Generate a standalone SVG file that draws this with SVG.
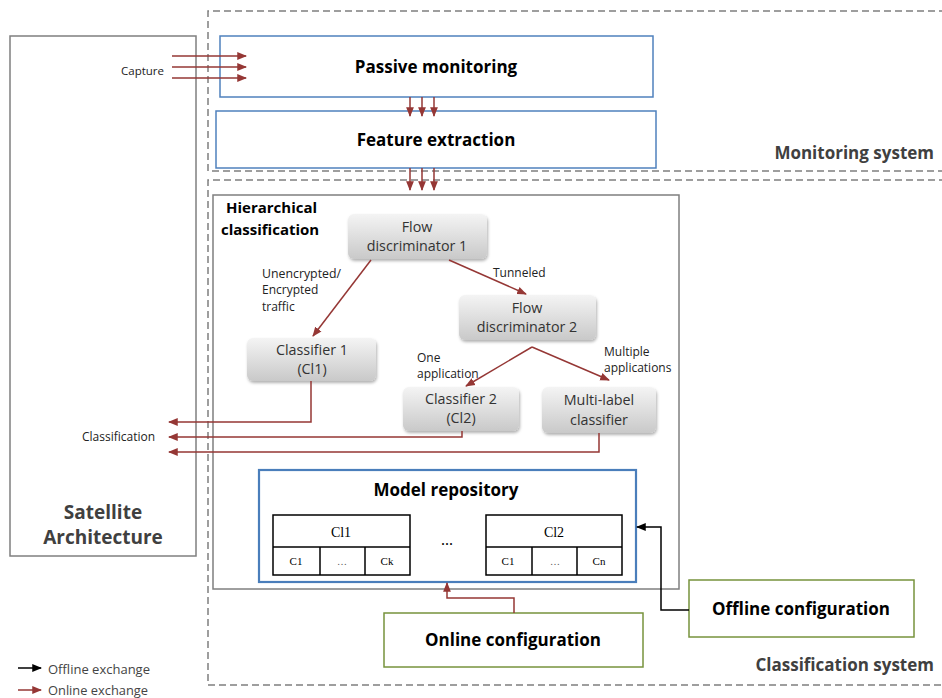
<svg xmlns="http://www.w3.org/2000/svg" width="942" height="698" viewBox="0 0 942 698">
<style>
.dash{fill:none;stroke:#7f7f7f;stroke-width:1.5;stroke-dasharray:7,4}
.grey{fill:#fff;stroke:#7f7f7f;stroke-width:1.5}
.blue{fill:#fff;stroke:#4f81bd;stroke-width:1.5}
.blue2{fill:#fff;stroke:#4a7ebb;stroke-width:2.2}
.green{fill:#fff;stroke:#77933c;stroke-width:1.5}
.node{fill:url(#g);filter:url(#sh)}
.red{fill:none;stroke:#953735;stroke-width:1.5;marker-end:url(#ar)}
.blk{fill:none;stroke:#000;stroke-width:1.5;marker-end:url(#ab)}
.tb{fill:#fff;stroke:#000;stroke-width:1.5}
.b{font-family:"Open Sans","Liberation Sans",sans-serif;font-weight:bold;fill:#000}
.n{font-family:"Open Sans","Liberation Sans",sans-serif;fill:#333;font-size:14.3px;text-anchor:middle}
.s{font-family:"Open Sans","Liberation Sans",sans-serif;fill:#222;font-size:12px}
.t{font-family:"Liberation Serif",serif;fill:#000;text-anchor:middle}
</style>
<defs>
<linearGradient id="g" x1="0" y1="0" x2="0" y2="1"><stop offset="0" stop-color="#f4f4f4"/><stop offset="1" stop-color="#c9c9c9"/></linearGradient>
<filter id="sh" x="-10%" y="-10%" width="125%" height="135%"><feDropShadow dx="1" dy="2" stdDeviation="1.5" flood-color="#000" flood-opacity="0.3"/></filter>
<marker id="ar" viewBox="0 0 10 10" refX="9" refY="5" markerWidth="6.5" markerHeight="6.5" orient="auto"><path d="M0,1 L10,5 L0,9 z" fill="#953735"/></marker>
<marker id="ab" viewBox="0 0 10 10" refX="9" refY="5" markerWidth="6.5" markerHeight="6.5" orient="auto"><path d="M0,1 L10,5 L0,9 z" fill="#000"/></marker>
</defs>

<g id="monitoring-system">
<path class="dash" d="M946,11 H208 V171 H946"/>
<text class="b" x="934" y="159" font-size="17" style="fill:#404040" text-anchor="end">Monitoring system</text>
</g>
<g id="classification-system">
<path class="dash" d="M946,180 H208 V685 H946"/>
<text class="b" x="934" y="671" font-size="17" style="fill:#404040" text-anchor="end">Classification system</text>
</g>
<g id="satellite-architecture">
<rect class="grey" x="10" y="36" width="186" height="520"/>
<text class="b" x="103" y="519" font-size="19" style="fill:#404040" text-anchor="middle">Satellite</text>
<text class="b" x="103" y="544" font-size="19" style="fill:#404040" text-anchor="middle">Architecture</text>
</g>
<g id="passive-monitoring">
<rect class="blue" x="220" y="36" width="433" height="61"/>
<text class="b" x="436" y="73" font-size="17" text-anchor="middle">Passive monitoring</text>
</g>
<g id="feature-extraction">
<rect class="blue" x="216" y="111" width="440" height="57"/>
<text class="b" x="436" y="146" font-size="17" text-anchor="middle">Feature extraction</text>
</g>
<g id="hierarchical-classification">
<rect class="grey" x="213" y="195" width="466" height="394"/>
<text class="b" x="226" y="213" font-size="15">Hierarchical</text>
<text class="b" x="221" y="235" font-size="15">classification</text>
</g>
<g id="flow-discriminator-1">
<rect class="node" x="348" y="214" width="139" height="45" rx="6"/>
<text class="n" x="417" y="232">Flow</text>
<text class="n" x="417" y="251">discriminator 1</text>
</g>
<g id="flow-discriminator-2">
<rect class="node" x="459" y="295" width="137" height="45" rx="6"/>
<text class="n" x="527" y="313">Flow</text>
<text class="n" x="527" y="332">discriminator 2</text>
</g>
<g id="classifier-1">
<rect class="node" x="247" y="338" width="129" height="43" rx="6"/>
<text class="n" x="312" y="355">Classifier 1</text>
<text class="n" x="312" y="374">(Cl1)</text>
</g>
<g id="classifier-2">
<rect class="node" x="403" y="387" width="116" height="44" rx="6"/>
<text class="n" x="461" y="404">Classifier 2</text>
<text class="n" x="461" y="423">(Cl2)</text>
</g>
<g id="multi-label-classifier">
<rect class="node" x="542" y="387" width="114" height="46" rx="6"/>
<text class="n" x="599" y="405">Multi-label</text>
<text class="n" x="599" y="425">classifier</text>
</g>
<g id="model-repository">
<rect class="blue2" x="259" y="470" width="377" height="112"/>
<text class="b" x="446" y="496" font-size="17" text-anchor="middle">Model repository</text>
<rect class="tb" x="273" y="515" width="137" height="60"/>
<line x1="273" y1="547" x2="410" y2="547" stroke="#000" stroke-width="1.5"/>
<line x1="320" y1="547" x2="320" y2="575" stroke="#000" stroke-width="1.5"/>
<line x1="365" y1="547" x2="365" y2="575" stroke="#000" stroke-width="1.5"/>
<text class="t" x="341" y="537" font-size="14">Cl1</text>
<text class="t" x="296" y="565" font-size="11">C1</text>
<text class="t" x="342" y="565" font-size="10" style="fill:#555">…</text>
<text class="t" x="387" y="565" font-size="11">Ck</text>
<text class="t" x="447" y="545" font-size="16">...</text>
<rect class="tb" x="486" y="515" width="136" height="60"/>
<line x1="486" y1="547" x2="622" y2="547" stroke="#000" stroke-width="1.5"/>
<line x1="532" y1="547" x2="532" y2="575" stroke="#000" stroke-width="1.5"/>
<line x1="577" y1="547" x2="577" y2="575" stroke="#000" stroke-width="1.5"/>
<text class="t" x="554" y="537" font-size="14">Cl2</text>
<text class="t" x="508" y="565" font-size="11">C1</text>
<text class="t" x="555" y="565" font-size="10" style="fill:#555">…</text>
<text class="t" x="599" y="565" font-size="11">Cn</text>
</g>
<g id="online-configuration">
<rect class="green" x="384" y="613" width="259" height="54"/>
<text class="b" x="513" y="646" font-size="17" text-anchor="middle">Online configuration</text>
</g>
<g id="offline-configuration">
<rect class="green" x="689" y="580" width="225" height="57"/>
<text class="b" x="801" y="615" font-size="17" text-anchor="middle">Offline configuration</text>
</g>

<g id="connectors">
<path class="red" d="M172,56 H246"/>
<path class="red" d="M172,67 H246"/>
<path class="red" d="M172,78 H246"/>
<path class="red" d="M410,97 V116"/>
<path class="red" d="M422,97 V116"/>
<path class="red" d="M434,97 V116"/>
<path class="red" d="M410,168 V190"/>
<path class="red" d="M422,168 V190"/>
<path class="red" d="M434,168 V190"/>
<path class="red" d="M371,260 L313,336"/>
<path class="red" d="M449,260 L526,294"/>
<path class="red" d="M532,347 L466,386"/>
<path class="red" d="M532,347 L609,380"/>
<path class="red" d="M311,381 V422 H169"/>
<path class="red" d="M462,431 V437 H169"/>
<path class="red" d="M599,433 V452 H169"/>
<path class="red" d="M514,613 V598 H447 V583"/>
<path class="blk" d="M689,610 H661 V527 H637"/>
<path class="blk" d="M18,668 H41"/>
<path class="red" d="M18,690 H41"/>
</g>
<g id="labels">
<text class="s" x="121" y="75" font-size="11.5" style="font-size:11.5px">Capture</text>
<text class="s" x="82" y="441">Classification</text>
<text class="s" x="262" y="278" textLength="79" lengthAdjust="spacingAndGlyphs">Unencrypted/</text>
<text class="s" x="262" y="294">Encrypted</text>
<text class="s" x="262" y="311">traffic</text>
<text class="s" x="493" y="277">Tunneled</text>
<text class="s" x="417" y="362">One</text>
<text class="s" x="417" y="378">application</text>
<text class="s" x="604" y="356">Multiple</text>
<text class="s" x="604" y="372">applications</text>
<text class="s" x="48" y="674" style="fill:#444;font-size:13.5px" textLength="102" lengthAdjust="spacingAndGlyphs">Offline exchange</text>
<text class="s" x="48" y="695" style="fill:#444;font-size:13.5px" textLength="100" lengthAdjust="spacingAndGlyphs">Online exchange</text>
</g>
</svg>
